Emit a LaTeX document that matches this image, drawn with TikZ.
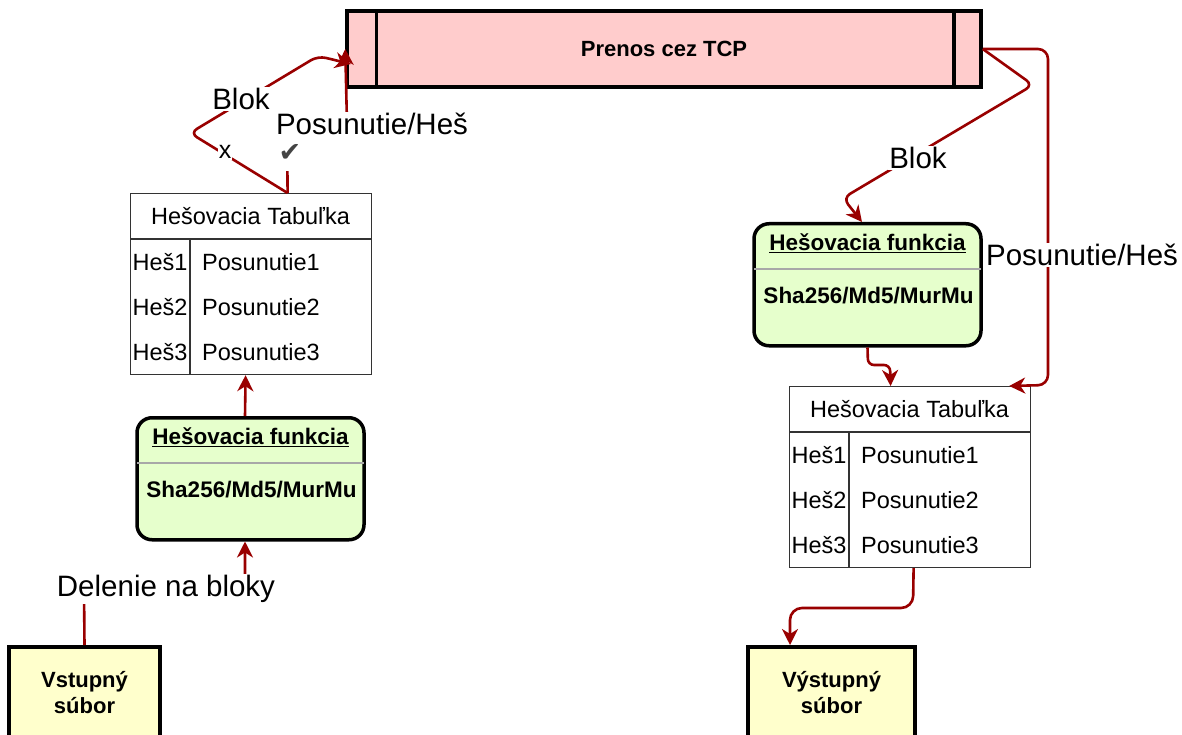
\documentclass[tikz,border=0pt]{standalone}
\usepackage{fontspec}
\setmainfont{Liberation Sans}
\newfontfamily\symfont{DejaVu Sans}
\usetikzlibrary{arrows.meta}
\definecolor{edgered}{HTML}{990000}
\definecolor{tcpfill}{HTML}{FFCCCC}
\definecolor{fnfill}{HTML}{E6FFCC}
\definecolor{filefill}{HTML}{FFFFCC}
\definecolor{tabgray}{HTML}{333333}
\definecolor{sepgray}{HTML}{A8A8A8}
\definecolor{checkgray}{HTML}{444444}
\tikzset{
  edge/.style={draw=edgered, line width=2.6pt, rounded corners=8pt,
    -{Stealth[length=16pt,width=16pt,inset=5pt]}},
  lbl/.style={fill=white, inner sep=1.5pt, text=black, font=\fontsize{29.5}{33}\selectfont},
  cell/.style={inner sep=0pt, font=\fontsize{23.5}{27}\selectfont},
  boldtxt/.style={inner sep=0pt, font=\bfseries\fontsize{22.5}{27}\selectfont},
  thickbox/.style={draw=black, line width=3.5pt},
  tabline/.style={draw=tabgray, line width=1.2pt},
}
\newcommand\myhashtable[3]{% name, left x, top y
  \node[tabline, minimum width=241pt, minimum height=181pt, inner sep=0pt, anchor=north west] (#1) at (#2,#3) {};
  \draw[tabline] ([yshift=-46pt]#1.north west) -- ([yshift=-46pt]#1.north east);
  \draw[tabline] ([xshift=60pt,yshift=-46pt]#1.north west) -- ([xshift=60pt]#1.south west);
  \node[cell] (#1-head) at ({#2+120.5},{#3+23}) {Hešovacia Tabuľka};
  \node[cell] (#1-h1) at ({#2+30},{#3+69}) {Heš1};
  \node[cell] (#1-h2) at ({#2+30},{#3+114}) {Heš2};
  \node[cell] (#1-h3) at ({#2+30},{#3+159}) {Heš3};
  \node[cell, anchor=west] (#1-p1) at ({#2+72},{#3+69}) {Posunutie1};
  \node[cell, anchor=west] (#1-p2) at ({#2+72},{#3+114}) {Posunutie2};
  \node[cell, anchor=west] (#1-p3) at ({#2+72},{#3+159}) {Posunutie3};
}
\newcommand\myhashfn[3]{% name, center x, top y
  \node[thickbox, fill=fnfill, rounded corners=15pt, minimum width=227pt, minimum height=122pt, inner sep=0pt, anchor=north] (#1) at (#2,#3) {};
  \draw[sepgray, line width=2pt] ([xshift=1.8pt,yshift=-47pt]#1.north west) -- ([xshift=-1.8pt,yshift=-47pt]#1.north east);
  \node[boldtxt] (#1-title) at ({#2},{#3+21}) {\underline{Hešovacia funkcia}};
  \node[boldtxt] (#1-alg) at ({#2+1},{#3+74}) {Sha256/Md5/MurMu};
}
\begin{document}
\begin{tikzpicture}[x=1pt,y=-1pt]
\useasboundingbox (0,0) rectangle (1182,735);
\clip (0,0) rectangle (1182,735);

% TCP transfer box
\node[thickbox, fill=tcpfill, minimum width=634pt, minimum height=76pt, inner sep=0pt,
      font=\bfseries\fontsize{22}{26}\selectfont] (tcp) at (664,49) {Prenos cez TCP};
\draw[black, line width=3.5pt] ([xshift=31pt]tcp.north west) -- ([xshift=31pt]tcp.south west);
\draw[black, line width=3.5pt] ([xshift=-29pt]tcp.north east) -- ([xshift=-29pt]tcp.south east);

% tables
\myhashtable{tabL}{130}{193}
\myhashtable{tabR}{789}{386}

% hash functions
\myhashfn{hashL}{250.5}{416}
\myhashfn{hashR}{867.5}{222}

% files
\node[thickbox, fill=filefill, minimum width=151pt, minimum height=100pt, inner sep=0pt,
      anchor=north] (vin) at (84.5,645) {};
\node[boldtxt, align=center, font=\bfseries\fontsize{22}{26}\selectfont] (vintxt) at (84.5,693) {Vstupný\\súbor};
\node[thickbox, fill=filefill, minimum width=167pt, minimum height=100pt, inner sep=0pt,
      anchor=north] (vout) at (831.5,645) {};
\node[boldtxt, align=center, font=\bfseries\fontsize{22}{26}\selectfont] (vouttxt) at (831.5,693) {Výstupný\\súbor};

% connectors
\coordinate (tabLtop) at ([xshift=36.5pt]tabL.north);
\draw[edge, rounded corners=0pt] (vin.north) -- (84,589) -- (245,589) -- ([xshift=-5.5pt]hashL.south);
\draw[edge] ([xshift=-5.5pt]hashL.north) -- ([xshift=-5.5pt]tabL.south);
\draw[edge, rounded corners=0pt] (tabLtop) -- (287,124) -- (347,124) -- (tcp.west);
\draw[edge] (tabLtop) -- (190,133) -- (318,56) -- (351,64);
\draw[edge] (tcp.east) -- (1033,85) -- (843,198) -- (862,222);
\draw[edge, rounded corners=10pt] (tcp.east) -- (1048,49) -- (1048,385) -- ([xshift=-22pt]tabR.north east);
\draw[edge, rounded corners=6pt] (hashR.south) -- (868,365) -- (890,365) -- ([xshift=-19.5pt]tabR.north);
\draw[edge, rounded corners=12pt] ([xshift=3.5pt]tabR.south) -- (913,608) -- (790,608) -- ([xshift=-41.5pt]vout.north);

% connector labels
\node[lbl] (lDel) at (166,589) {Delenie na bloky};
\node[lbl] (lPosL) at (372,124) {Posunutie/Heš};
\node[lbl] (lBlokL) at (241,99) {Blok};
\node[lbl, font=\fontsize{25}{27}\selectfont, inner sep=1pt] (lx) at (225,152) {x};
\node[fill=white, inner xsep=2pt, inner ysep=9pt, text=checkgray, font=\symfont\fontsize{27}{29}\selectfont] (lchk) at (290,153) {✔};
\node[lbl] (lBlokR) at (918,158) {Blok};
\node[lbl] (lPosR) at (1082,255) {Posunutie/Heš};
\end{tikzpicture}
\end{document}
